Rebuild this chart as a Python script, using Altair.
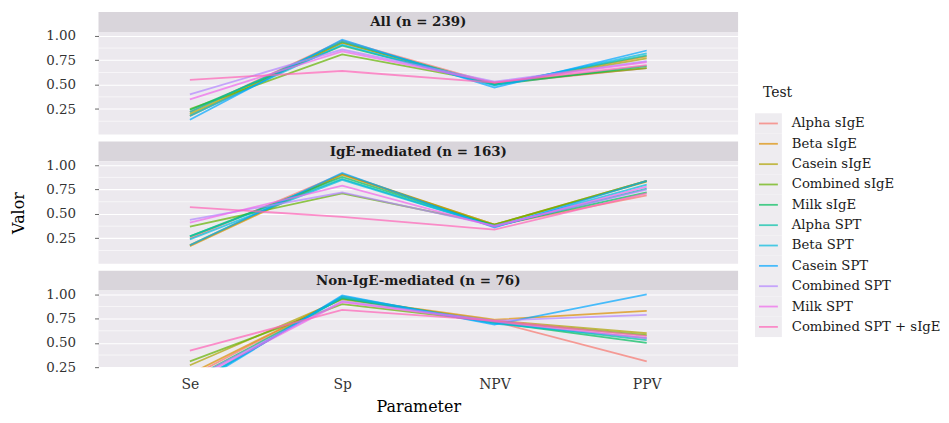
import altair as alt
import pandas as pd

tests = ["Alpha sIgE", "Beta sIgE", "Casein sIgE", "Combined sIgE", "Milk sIgE",
         "Alpha SPT", "Beta SPT", "Casein SPT", "Combined SPT", "Milk SPT",
         "Combined SPT + sIgE"]
colors = ["#F8766D", "#DB8E00", "#AEA200", "#64B200", "#00BD5C", "#00C1A7",
          "#00BADE", "#00A6FF", "#B385FF", "#EF67EB", "#FF63B6"]
params = ["Se", "Sp", "NPV", "PPV"]
panels = ["All (n = 239)", "IgE-mediated (n = 163)", "Non-IgE-mediated (n = 76)"]

# Panel "All"
all_se = [0.22, 0.18, 0.20, 0.25, 0.24, 0.22, 0.18, 0.14, 0.40, 0.35, 0.55]
all_sp = [0.95, 0.93, 0.93, 0.81, 0.90, 0.94, 0.91, 0.96, 0.86, 0.84, 0.64]
all_npv = [0.51, 0.50, 0.50, 0.52, 0.50, 0.50, 0.49, 0.47, 0.53, 0.52, 0.52]
all_ppv = [0.67, 0.79, 0.77, 0.67, 0.69, 0.80, 0.82, 0.85, 0.74, 0.73, 0.70]

# Panel "IgE-mediated"
ige_se = [0.25, 0.17, 0.18, 0.37, 0.27, 0.27, 0.24, 0.18, 0.44, 0.41, 0.57]
ige_sp = [0.91, 0.90, 0.91, 0.71, 0.88, 0.86, 0.85, 0.92, 0.72, 0.79, 0.47]
ige_npv = [0.38, 0.39, 0.39, 0.39, 0.38, 0.37, 0.37, 0.36, 0.38, 0.37, 0.34]
ige_ppv = [0.69, 0.84, 0.83, 0.84, 0.72, 0.76, 0.80, 0.84, 0.75, 0.78, 0.71]

# Panel "Non-IgE-mediated"
non_se = [0.15, 0.18, 0.27, 0.31, 0.12, 0.05, 0.06, 0.03, 0.12, 0.10, 0.42]
non_sp = [0.97, 0.96, 0.95, 0.90, 0.96, 0.98, 0.97, 0.99, 0.93, 0.92, 0.84]
non_npv = [0.72, 0.74, 0.73, 0.72, 0.71, 0.71, 0.70, 0.69, 0.73, 0.72, 0.73]
non_ppv = [0.31, 0.83, 0.60, 0.58, 0.50, 0.53, 0.55, 1.00, 0.79, 0.55, 0.57]

y_ticks = [0.25, 0.50, 0.75, 1.00]
y_minor = [0.125, 0.375, 0.625, 0.875]

FONT = "DejaVu Serif"
PANEL = "#ECE9EE"
STRIP = "#D9D5DB"
KEY = "#EEECF0"
TXT = "#333333"
W = 643
SH = 20


def long_df(series):
    rows = []
    for pi, (p, vals) in enumerate(zip(params, series)):
        for t, v in zip(tests, vals):
            rows.append({"test": t, "param": p, "pidx": pi, "value": v})
    return pd.DataFrame(rows)


def panel_chart(series, domain, height, ytitle, bottom):
    df = long_df(series)
    if bottom:
        xaxis = alt.Axis(title="Parameter", ticks=False, domain=False, labelAngle=0,
                         labelFontSize=14, labelColor=TXT, labelPadding=10,
                         titleFontSize=16, titleFontWeight="normal", titleColor="#000000",
                         titlePadding=8, gridColor="#FFFFFF", gridWidth=1.1)
    else:
        xaxis = alt.Axis(title=None, labels=False, ticks=False, domain=False,
                         gridColor="#FFFFFF", gridWidth=1.1)
    yscale = alt.Scale(domain=domain, nice=False, zero=False)
    yaxis = alt.Axis(values=y_ticks, format=".2f", domain=False, tickSize=4,
                     tickColor="#666666", labelFontSize=13.5, labelColor=TXT,
                     labelPadding=19, gridColor="#FFFFFF", gridWidth=1.1,
                     title=ytitle if ytitle else None, titleFontSize=16,
                     titleFontWeight="normal", titleColor="#000000", titlePadding=19)
    minor = pd.DataFrame({"v": [m for m in y_minor if m >= domain[0]]})
    rules = alt.Chart(minor).mark_rule(color="#FFFFFF", strokeWidth=0.6).encode(
        y=alt.Y("v:Q", scale=yscale, axis=yaxis)
    )
    lines = alt.Chart(df).mark_line(strokeWidth=1.8, opacity=0.7, clip=True).encode(
        x=alt.X("param:N", sort=params, scale=alt.Scale(type="point", padding=0.6), axis=xaxis),
        y=alt.Y("value:Q", scale=yscale, axis=yaxis),
        color=alt.Color("test:N", scale=alt.Scale(domain=tests, range=colors), legend=None),
        order=alt.Order("pidx:Q"),
    )
    return alt.layer(rules, lines).properties(
        width=W, height=height, view=alt.ViewBackground(fill=PANEL, strokeWidth=0)
    )


def strip(label):
    d = pd.DataFrame({"label": [label]})
    base = alt.Chart(d)
    rect = base.mark_rect(color=STRIP).encode(
        x=alt.value(0), x2=alt.value(W), y=alt.value(0), y2=alt.value(SH))
    txt = base.mark_text(font=FONT, fontWeight="bold", fontSize=13.5, color="#1A1A1A",
                         baseline="middle").encode(
        x=alt.value(W / 2), y=alt.value(SH / 2 + 0.5), text="label:N")
    return alt.layer(rect, txt).properties(width=W, height=SH)


p1 = alt.vconcat(strip(panels[0]),
                 panel_chart([all_se, all_sp, all_npv, all_ppv], [-0.01, 1.04], 103, None, False),
                 spacing=0, bounds="flush")
p2 = alt.vconcat(strip(panels[1]),
                 panel_chart([ige_se, ige_sp, ige_npv, ige_ppv], [-0.01, 1.04], 103, "Valor", False),
                 spacing=0, bounds="flush")
p3 = alt.vconcat(strip(panels[2]),
                 panel_chart([non_se, non_sp, non_npv, non_ppv], [0.25, 1.04], 77, None, True),
                 spacing=0, bounds="flush")
left = alt.vconcat(p1, p2, p3, spacing=7)

# Legend
LH = 357
ldf = pd.DataFrame({"test": tests, "idx": list(range(len(tests)))})
lscale = alt.Scale(domain=[-5.476, 11.98], reverse=True, nice=False, zero=False)
lbase = alt.Chart(ldf).transform_calculate(lo="datum.idx - 0.5", hi="datum.idx + 0.5")
keys = lbase.mark_rect(color=KEY).encode(
    x=alt.value(7), x2=alt.value(34),
    y=alt.Y("lo:Q", scale=lscale, axis=None), y2="hi:Q")
klines = lbase.mark_rule(strokeWidth=1.8, opacity=0.7).encode(
    x=alt.value(11), x2=alt.value(30),
    y=alt.Y("idx:Q", scale=lscale, axis=None),
    color=alt.Color("test:N", scale=alt.Scale(domain=tests, range=colors), legend=None))
klabels = lbase.mark_text(font=FONT, fontSize=13.3, align="left", baseline="middle",
                          color="#1A1A1A").encode(
    x=alt.value(44), y=alt.Y("idx:Q", scale=lscale, axis=None), text="test:N")
ltitle = alt.Chart(pd.DataFrame({"t": ["Test"]})).mark_text(
    font=FONT, fontSize=14, align="left", baseline="middle", color="#1A1A1A").encode(
    x=alt.value(15), y=alt.value(81.7), text="t:N")
legend = alt.layer(keys, klines, klabels, ltitle).properties(width=190, height=LH)

chart = alt.hconcat(left, legend, spacing=9).properties(
    padding={"left": 2, "top": 3, "right": 0, "bottom": 0}
).configure(font=FONT).configure_view(strokeWidth=0)

chart.save("out.html", embed_options={"renderer": "svg", "actions": False})
